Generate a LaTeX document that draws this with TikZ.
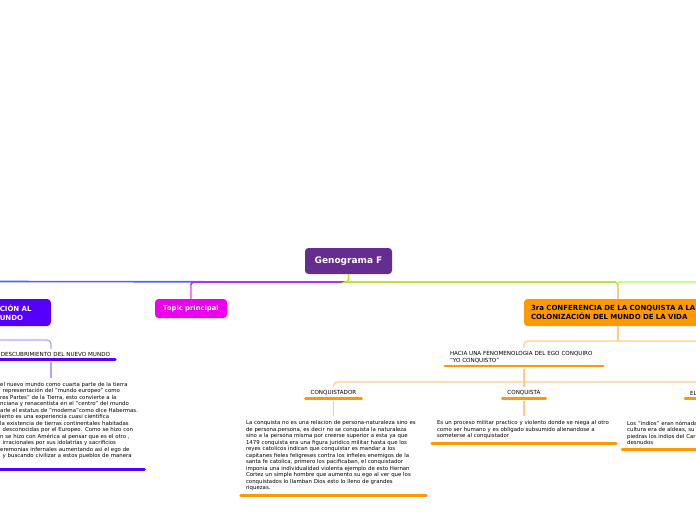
\documentclass[tikz,border=0pt]{standalone}
\usepackage{fontspec}
\setmainfont{DejaVu Sans}
\definecolor{GenoPurple}{HTML}{662D91}
\definecolor{NMBlue}{HTML}{5500FF}
\definecolor{TopicMagenta}{HTML}{EE00EE}
\definecolor{ConfOrange}{HTML}{FF9900}
\definecolor{LineBlue}{HTML}{5560EE}
\definecolor{LineViolet}{HTML}{AE33F0}
\definecolor{LinePink}{HTML}{FF77FF}
\definecolor{LineLime}{HTML}{BDE33B}
\definecolor{LineMint}{HTML}{C6FF8A}
\definecolor{LinePeach}{HTML}{FFCC88}
\definecolor{LineLilac}{HTML}{B3A1FF}
\tikzset{
  topicbox/.style={rounded corners=3.5pt, inner sep=0pt, text=white},
  subtext/.style={font=\fontsize{5.6}{6.5}\selectfont, inner xsep=5pt, inner ysep=3pt},
  paratext/.style={font=\fontsize{5.4}{6.5}\selectfont, align=left, inner xsep=5pt, inner ysep=4.5pt},
  ulorange/.style={ConfOrange, line width=2.8pt, line cap=round},
  ulblue/.style={NMBlue, line width=2.8pt, line cap=round},
  peachline/.style={LinePeach, line width=1.2pt},
  lilacline/.style={LineLilac, line width=1.2pt}
}
\begin{document}
\begin{tikzpicture}[x=1pt,y=-1pt]
\path[use as bounding box] (0,0) rectangle (696,520);
\clip (0,0) rectangle (696,520);
\node[topicbox, fill=GenoPurple, font=\fontsize{9}{11}\selectfont\bfseries, minimum width=87pt, minimum height=26pt] (genograma) at (348.5,261) {Genograma F};
\coordinate (trunk) at (348,282);
\coordinate (leftend) at (-2,281.5);
\coordinate (rightend) at (700,282);
\node[topicbox, fill=TopicMagenta, font=\fontsize{6.8}{8}\selectfont\bfseries, minimum width=72pt, minimum height=19pt] (topic) at (191,308.5) {Topic principal};
\node[topicbox, fill=NMBlue, font=\fontsize{7}{9}\selectfont\bfseries, align=left, text width=44pt, inner xsep=7pt, minimum height=27pt, anchor=east] (nuevomundo) at (51,312.5) {CIÓN AL\\UNDO};
\node[topicbox, fill=ConfOrange, text=black, font=\fontsize{7}{9}\selectfont\bfseries, align=left, text width=174pt, inner xsep=7pt, minimum height=27pt] (conferencia) at (618,312.5) {3ra CONFERENCIA DE LA CONQUISTA A LA\\COLONIZACIÓN DEL MUNDO DE LA VIDA};
\coordinate (topicjoint) at (topic.north |- trunk);
\coordinate (confjoint) at (conferencia.north |- trunk);
\draw[LineBlue, line width=1.6pt] (trunk) -- (leftend);
\draw[LineViolet, line width=1.6pt, rounded corners=3pt] (trunk) -| (topic.north);
\draw[LinePink, line width=1.4pt] ([yshift=-3pt]topicjoint) -- (topic.north);
\draw[LineMint, line width=1.6pt] (confjoint) -- (rightend);
\draw[LineLime, line width=1.6pt, rounded corners=3pt] (genograma.south) |- (trunk) -| (conferencia.north);
\draw[LinePeach, line width=1.4pt] ([yshift=-3pt]confjoint) -- (conferencia.north);
\node[subtext, text width=118pt, align=right, anchor=south] (descub) at (51,359.5) {DESCUBRIMIENTO DEL NUEVO MUNDO};
\draw[ulblue] (descub.south west) -- (descub.south east);
\coordinate (nmjoint) at (-2,340);
\draw[lilacline, rounded corners=4pt] (nmjoint) -| (descub.north);
\node[paratext, text width=160pt, inner xsep=0pt, anchor=north west] (nmtext) at (0,377.5) {el nuevo mundo como cuarta parte de la tierra\\
\hspace*{2.5pt}representación del "mundo europeo" como\\
res Partes" de la Tierra, esto convierte a la\\
nciana y renacentista en el "centro" del mundo\\
arle el estatus de "moderna"como dice Habermas.\\
iento es una experiencia cuasi científica\\
la existencia de tierras continentales habitadas\\
\hspace*{2.5pt}desconocidas por el Europeo. Como se hizo con\\
n se hizo con América al pensar que es el otro ,\\
\hspace*{2.5pt}irracionales por sus idolatrías y sacrificios\\
eremonias infernales aumentando así el ego de\\
\hspace*{2.5pt}y buscando civilizar a estos pueblos de manera};
\draw[lilacline] ([yshift=-2.5pt]descub.south) -- (nmtext.north -| descub.south);
\draw[ulblue] ([xshift=-42pt,yshift=-6pt]nmtext.south west) -- ([xshift=-16pt,yshift=-6pt]nmtext.south east);
\node[subtext, text width=148pt, align=left, anchor=south] (hacia) at (524,366) {HACIA UNA FENOMENOLOGIA DEL EGO CONQUIRO\\"YO CONQUISTO"};
\draw[ulorange] (hacia.south west) -- (hacia.south east);
\coordinate (haciajoint) at (700,341);
\draw[peachline] (conferencia.south) -- (conferencia.south |- haciajoint);
\draw[peachline, rounded corners=4pt] (haciajoint) -| (hacia.north);
\node[subtext, anchor=south] (conquistador) at (333.5,398.5) {CONQUISTADOR};
\draw[ulorange] (conquistador.south west) -- (conquistador.south east);
\node[subtext, anchor=south] (conquista) at (524,398.5) {CONQUISTA};
\draw[ulorange] (conquista.south west) -- (conquista.south east);
\node[subtext, anchor=south west] (el) at (685,398.5) {EL};
\draw[ulorange] (el.south west) -- ([xshift=20pt]el.south east);
\coordinate (conqjoint) at (700,382);
\draw[peachline] ([yshift=-2.5pt]hacia.south) -- (conquista.north);
\draw[peachline, rounded corners=4pt] (conqjoint) -| (conquistador.north);
\node[paratext, text width=175pt, anchor=south] (conqtext) at (333.5,495.5) {La conquista no es una relacion de persona-naturaleza sino es\\
de persona.persona, es decir no se conquista la naturaleza\\
sino a la persona misma por creerse superior a esta ya que\\
1479 conquista era una figura juridico militar hasta que los\\
reyes catolicos indican que conquistar es mandar a los\\
capitanes fieles feligreses contra los infieles enemigos de la\\
santa fe catolica, primero los pacificaban, el conquistador\\
imponia una individualidad violenta ejemplo de esto Hernan\\
Cortez un simple hombre que aumento su ego al ver que los\\
conquistados lo llamban Dios esto lo lleno de grandes\\
riquezas.};
\draw[ulorange] (conqtext.south west) -- (conqtext.south east);
\draw[peachline] ([yshift=-2.5pt]conquistador.south) -- (conqtext.north);
\node[paratext, text width=174pt, anchor=south] (conquistatext) at (524,443.5) {Es un proceso militar practico y violento donde se niega al otro\\
como ser humano y es obligado subsumido alienandose a\\
someterse al conquistador};
\draw[ulorange] (conquistatext.south west) -- (conquistatext.south east);
\draw[peachline] ([yshift=-2.5pt]conquista.south) -- (conquistatext.north);
\node[paratext, text width=174pt, anchor=south west] (eltext) at (622,449.5) {Los "indios" eran nómada\\
cultura era de aldeas, su\\
piedras los indios del Car\\
desnudos};
\draw[ulorange] (eltext.south west) -- (eltext.south east);
\end{tikzpicture}
\end{document}
